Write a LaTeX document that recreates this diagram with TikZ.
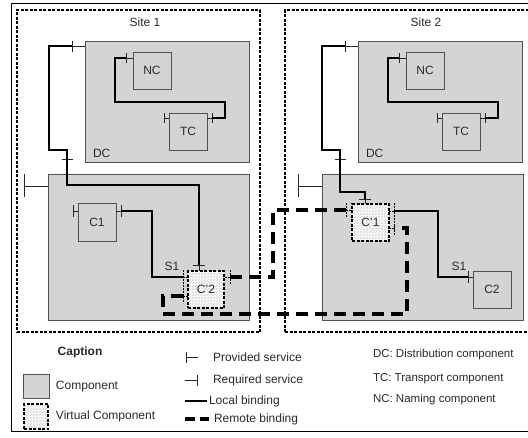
\documentclass[tikz,border=0pt]{standalone}
\usepackage{fontspec}
\setmainfont{Liberation Sans}
\usetikzlibrary{patterns}
\definecolor{compgray}{HTML}{D4D4D4}
\definecolor{edgegray}{HTML}{505050}
\definecolor{txt}{HTML}{2A2A2A}
\begin{document}
\begin{tikzpicture}[x=1pt,y=-1pt,
  lbl/.style={inner sep=0pt, outer sep=0pt, text=txt, font=\fontsize{12}{14}\selectfont},
  box/.style={draw=edgegray, line width=0.8pt, fill=compgray, inner sep=0pt, outer sep=0pt, text=txt, font=\fontsize{12}{14}\selectfont},
  vbox/.style={draw=black, line width=1.3pt, dash pattern=on 3pt off 1.5pt, inner sep=0pt, outer sep=0pt,
     preaction={fill=gray!5}, pattern=north east lines, pattern color=gray!40, text=txt, font=\fontsize{12}{14}\selectfont},
  sitebox/.style={draw=black, line width=1.4pt, dash pattern=on 3pt off 1.5pt, inner sep=0pt, outer sep=0pt},
  port/.style={draw=black!85, line width=0.8pt},
  vport/.style={draw=black, line width=0.9pt, dash pattern=on 2pt off 1pt},
  local/.style={draw=black, line width=2.6pt, line join=miter},
  remote/.style={draw=black, line width=4pt, dash pattern=on 12pt off 7pt}
]
\fill[white] (0,0) rectangle (528,437);
\useasboundingbox (0,0) rectangle (528,437);
% outer frame (right edge outside the picture)
\draw[line width=0.8pt] (540,3) -- (11,3) -- (11,431) -- (540,431);
% sites
\node[sitebox, minimum width=243pt, minimum height=322pt] (site1) at (138.5,171) {};
\node[sitebox, minimum width=260pt, minimum height=322pt] (site2) at (415,171) {};
\node[lbl] (site1t) at (145,22) {Site 1};
\node[lbl] (site2t) at (426,22) {Site 2};

% ---------------- Site 1 ----------------
\node[box, minimum width=164pt, minimum height=121pt] (dc1) at (167,101.5) {};
\node[lbl, anchor=west] (dc1t) at (93,153) {DC};
\node[box, minimum width=38pt, minimum height=37pt] (nc1) at (152,70.5) {NC};
\node[box, minimum width=38pt, minimum height=37pt] (tc1) at (188,131.5) {TC};
\node[box, minimum width=201pt, minimum height=146pt] (cmp1) at (148.5,247) {};
\node[box, minimum width=38pt, minimum height=38pt] (c1) at (97,222) {C1};
\node[vbox, minimum width=36pt, minimum height=37pt] (cv2) at (206,289.5) {C'2};
\node[lbl] (s1a) at (172,266) {S1};

% DC1 provided port
\coordinate (dc1p) at (72,46);
\draw[port] (dc1p) -- (dc1.west |- dc1p);
\draw[port] (dc1p) ++(0,-5.5) -- ++(0,11);
\coordinate (cmp1r) at (67,159);
\draw[port] (cmp1r) ++(-5.5,0) -- ++(11,0);
% C'2 top port
\coordinate (cv2t) at (199,265);
\draw[port] (cv2t) -- (cv2.north -| cv2t);
\draw[port] (cv2t) ++(-6,0) -- ++(12,0);
\draw[local] (dc1p) -- (49,46) -- (49,150) -- (67,150) -- (cmp1r) -- (67,185) -- (199,185) -- (cv2t);
% NC1 - TC1
\coordinate (nc1p) at (126,58);
\draw[port] (nc1p) -- (nc1.west |- nc1p);
\draw[port] (nc1p) ++(0,-5) -- ++(0,10);
\coordinate (tc1r) at (212,118);
\draw[port] (tc1r) -- (tc1.east |- tc1r);
\draw[port] (tc1r) ++(0,-5) -- ++(0,10);
\coordinate (tc1l) at (164,118);
\draw[port] (tc1l) -- (tc1.west |- tc1l);
\draw[port] (tc1l) ++(0,-5) -- ++(0,10);
\draw[local] (nc1p) -- (115,58) -- (115,102) -- (225,102) -- (225,118) -- (tc1r);
% component 1 provided port
\coordinate (cmp1p) at (24,186);
\draw[port] (cmp1p) -- (cmp1.west |- cmp1p);
\draw[port] (24,174) -- (24,197);
% C1 ports
\coordinate (c1l) at (73,211);
\draw[port] (c1l) -- (c1.west |- c1l);
\draw[port] (c1l) ++(0,-6) -- ++(0,12);
\coordinate (c1r) at (121,211);
\draw[port] (c1r) -- (c1.east |- c1r);
\draw[port] (c1r) ++(0,-6) -- ++(0,12);
% C'2 ports
\coordinate (cv2l) at (183,277);
\coordinate (cv2b) at (183,296);
\draw[vport] (cv2l) -- (cv2.west |- cv2l);
\draw[vport] (cv2b) -- (cv2.west |- cv2b);
\draw[vport] (183,270) -- (183,303);
\coordinate (cv2r) at (230,277);
\draw[vport] (cv2r) -- (cv2.east |- cv2r);
\draw[vport] (230,270) -- (230,284);
\draw[local] (c1r) -- (152,211) -- (152,277) -- (cv2l);

% ---------------- Site 2 ----------------
\node[box, minimum width=164pt, minimum height=121pt] (dc2) at (440,101.5) {};
\node[lbl, anchor=west] (dc2t) at (366,153) {DC};
\node[box, minimum width=38pt, minimum height=37pt] (nc2) at (425,70.5) {NC};
\node[box, minimum width=38pt, minimum height=37pt] (tc2) at (461,131.5) {TC};
\node[box, minimum width=201pt, minimum height=146pt] (cmp2) at (422.5,247) {};
\node[vbox, minimum width=37pt, minimum height=37pt] (cv1) at (370.5,222.5) {C'1};
\node[box, minimum width=38pt, minimum height=37pt] (c2) at (492,289.5) {C2};
\node[lbl] (s1b) at (459,266) {S1};

\coordinate (dc2p) at (345,46);
\draw[port] (dc2p) -- (dc2.west |- dc2p);
\draw[port] (dc2p) ++(0,-5.5) -- ++(0,11);
\coordinate (cmp2r) at (340,159);
\draw[port] (cmp2r) ++(-5.5,0) -- ++(11,0);
\coordinate (cv1t) at (365,199);
\draw[port] (cv1t) -- (cv1.north -| cv1t);
\draw[port] (cv1t) ++(-6,0) -- ++(12,0);
\draw[local] (dc2p) -- (322,46) -- (322,150) -- (340,150) -- (cmp2r) -- (340,192) -- (365,192) -- (cv1t);
\coordinate (nc2p) at (399,58);
\draw[port] (nc2p) -- (nc2.west |- nc2p);
\draw[port] (nc2p) ++(0,-5) -- ++(0,10);
\coordinate (tc2r) at (485,118);
\draw[port] (tc2r) -- (tc2.east |- tc2r);
\draw[port] (tc2r) ++(0,-5) -- ++(0,10);
\coordinate (tc2l) at (437,118);
\draw[port] (tc2l) -- (tc2.west |- tc2l);
\draw[port] (tc2l) ++(0,-5) -- ++(0,10);
\draw[local] (nc2p) -- (388,58) -- (388,102) -- (498,102) -- (498,118) -- (tc2r);
\coordinate (cmp2p) at (298,186);
\draw[port] (cmp2p) -- (cmp2.west |- cmp2p);
\draw[port] (298,174) -- (298,197);
% C'1 ports
\coordinate (cv1l) at (346,210);
\draw[vport] (cv1l) -- (cv1.west |- cv1l);
\draw[vport] (346,203) -- (346,217);
\coordinate (cv1r1) at (394,211);
\coordinate (cv1r2) at (394,228);
\draw[vport] (cv1r1) -- (cv1.east |- cv1r1);
\draw[vport] (cv1r2) -- (cv1.east |- cv1r2);
\draw[vport] (394,203) -- (394,236);
% C2 port
\coordinate (c2l) at (468,277);
\draw[port] (c2l) -- (c2.west |- c2l);
\draw[port] (c2l) ++(0,-6) -- ++(0,12);
\draw[local] (cv1r1) -- (438,211) -- (438,277) -- (c2l);

% remote bindings
\draw[remote] (cv2r) -- (273,277) -- (273,210) -- (cv1l);
\draw[remote] (cv2b) -- (163,296) -- (163,314) -- (407,314) -- (407,228) -- (cv1r2);

% ---------------- Legend ----------------
\node[lbl, font=\fontsize{12}{14}\selectfont\bfseries] (cap) at (80,352) {Caption};
\node[box, minimum width=26pt, minimum height=24pt] (lgc) at (36,386) {};
\node[lbl, anchor=west] (lgct) at (56,387) {Component};
\node[vbox, minimum width=24pt, minimum height=25pt] (lgv) at (36,416.5) {};
\node[lbl, anchor=west] (lgvt) at (56,416) {Virtual Component};
\coordinate (lp) at (186,357);
\draw[port] (lp) ++(0,-5.5) -- ++(0,11);
\draw[port] (lp) -- ++(12,0);
\node[lbl, anchor=west] (lpt) at (213,357) {Provided service};
\coordinate (lr) at (197,380);
\draw[port] (lr) ++(0,-5.5) -- ++(0,11);
\draw[port] (lr) -- ++(-12,0);
\node[lbl, anchor=west] (lrt) at (213,380) {Required service};
\coordinate (ll) at (185,401);
\draw[local] (ll) -- ++(22,0);
\node[lbl, anchor=west] (llt) at (209,401) {Local binding};
\coordinate (lm) at (185,419);
\draw[remote, dash pattern=on 10pt off 5pt] (lm) -- ++(24,0);
\node[lbl, anchor=west] (lmt) at (214,419) {Remote binding};
\node[lbl, anchor=west, font=\fontsize{11.5}{13}\selectfont] (ldc) at (373,355) {DC: Distribution component};
\node[lbl, anchor=west, font=\fontsize{11.5}{13}\selectfont] (ltc) at (373,379) {TC: Transport component};
\node[lbl, anchor=west, font=\fontsize{11.5}{13}\selectfont] (lnc) at (373,400) {NC: Naming component};
\end{tikzpicture}
\end{document}
